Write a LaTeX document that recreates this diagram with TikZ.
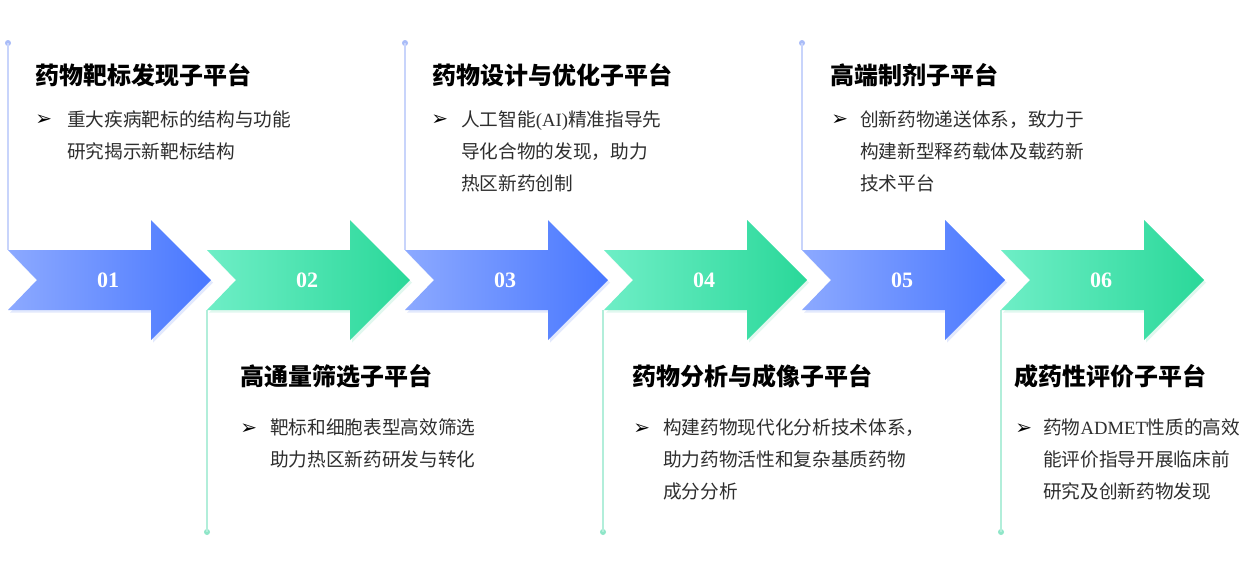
\documentclass[tikz,border=0pt]{standalone}
\usepackage{fontspec}
\setmainfont{Liberation Serif}
\newfontfamily\cjk{Noto Sans CJK SC}
\newfontfamily\symfont{DejaVu Sans}
\usetikzlibrary{shadows}

\definecolor{blauA}{HTML}{8CA9FF}
\definecolor{blauB}{HTML}{4877FF}
\definecolor{blauS}{HTML}{B8C8FA}
\definecolor{blauL}{HTML}{C8D4FB}
\definecolor{blauP}{HTML}{A9BCF8}
\definecolor{gruenA}{HTML}{6EEEC6}
\definecolor{gruenB}{HTML}{2AD899}
\definecolor{gruenS}{HTML}{B5EFD9}
\definecolor{gruenL}{HTML}{B2EEDA}
\definecolor{gruenP}{HTML}{8FE6C8}

\tikzset{
	titel/.style={anchor=base west,inner sep=0pt,font=\cjk\bfseries\fontsize{18}{18}\selectfont},
	% base = Grundlinie der letzten Zeile
	inhalt/.style={anchor=base west,inner sep=0pt,align=left,text=black!82,font=\cjk\fontsize{14}{24}\selectfont},
	marke/.style={anchor=base west,inner sep=0pt,text=black,font=\symfont\fontsize{15}{15}\selectfont},
	nummer/.style={inner sep=0pt,text=white,font=\rmfamily\bfseries\fontsize{16.5}{16.5}\selectfont},
	punkt/.style={circle,fill=#1,inner sep=0pt,minimum size=4.5pt},
	linie/.style={draw=#1,line width=1.2pt}
}

% Pfeil: x-Start, Farbe, Nummer
\newcommand{\pfeil}[3]{%
	\path[left color=#2A,right color=#2B,
		drop shadow={shadow xshift=1.5pt,shadow yshift=-2pt,fill=#2S,opacity=.4}]
		(#1,250) -- ++(143,0) -- ++(0,-30) -- ++(60,60) -- ++(-60,60)
		-- ++(0,-30) -- ++(-143,0) -- ++(29,-30) -- cycle;
	\node[nummer] (nr#3) at (#1+100,280) {#3};
}

\begin{document}
\begin{tikzpicture}[x=0.75pt,y=-0.75pt]

	\path[fill=white,use as bounding box] (0,0) rectangle (1252,569);

	% Verbindungslinien oben
	\node[punkt=blauP] (d1) at (8,43) {};
	\coordinate (o1) at (8,250);
	\draw[linie=blauL] (d1.center) -- (o1);
	\node[punkt=blauP] (d3) at (405,43) {};
	\coordinate (o3) at (405,250);
	\draw[linie=blauL] (d3.center) -- (o3);
	\node[punkt=blauP] (d5) at (802,43) {};
	\coordinate (o5) at (802,250);
	\draw[linie=blauL] (d5.center) -- (o5);

	% Verbindungslinien unten
	\node[punkt=gruenP] (d2) at (207,532) {};
	\coordinate (u2) at (207,310);
	\draw[linie=gruenL] (u2) -- (d2.center);
	\node[punkt=gruenP] (d4) at (603,532) {};
	\coordinate (u4) at (603,310);
	\draw[linie=gruenL] (u4) -- (d4.center);
	\node[punkt=gruenP] (d6) at (1001,532) {};
	\coordinate (u6) at (1001,310);
	\draw[linie=gruenL] (u6) -- (d6.center);

	% Pfeile
	\pfeil{8}{blau}{01}
	\pfeil{207}{gruen}{02}
	\pfeil{405}{blau}{03}
	\pfeil{604}{gruen}{04}
	\pfeil{802}{blau}{05}
	\pfeil{1001}{gruen}{06}

	% Plattform 1
	\node[titel] (t1) at (35,84) {药物靶标发现子平台};
	\node[marke] (m1) at (35,125) {➢};
	\node[inhalt] (i1) at (67,158) {重大疾病靶标的结构与功能\\研究揭示新靶标结构};

	% Plattform 2
	\node[titel] (t2) at (240,385) {高通量筛选子平台};
	\node[marke] (m2) at (240,434) {➢};
	\node[inhalt] (i2) at (270,466) {靶标和细胞表型高效筛选\\助力热区新药研发与转化};

	% Plattform 3
	\node[titel] (t3) at (432,84) {药物设计与优化子平台};
	\node[marke] (m3) at (431,125) {➢};
	\node[inhalt] (i3) at (461,190) {人工智能{\rmfamily (AI)}精准指导先\\导化合物的发现，助力\\热区新药创制};

	% Plattform 4
	\node[titel] (t4) at (632,385) {药物分析与成像子平台};
	\node[marke] (m4) at (633,434) {➢};
	\node[inhalt] (i4) at (663,498) {构建药物现代化分析技术体系，\\助力药物活性和复杂基质药物\\成分分析};

	% Plattform 5
	\node[titel] (t5) at (830,84) {高端制剂子平台};
	\node[marke] (m5) at (831,125) {➢};
	\node[inhalt] (i5) at (860,190) {创新药物递送体系，致力于\\构建新型释药载体及载药新\\技术平台};

	% Plattform 6
	\node[titel] (t6) at (1014,385) {成药性评价子平台};
	\node[marke] (m6) at (1015,434) {➢};
	\node[inhalt] (i6) at (1043,498) {药物{\rmfamily ADMET}性质的高效\\能评价指导开展临床前\\研究及创新药物发现};

\end{tikzpicture}
\end{document}
